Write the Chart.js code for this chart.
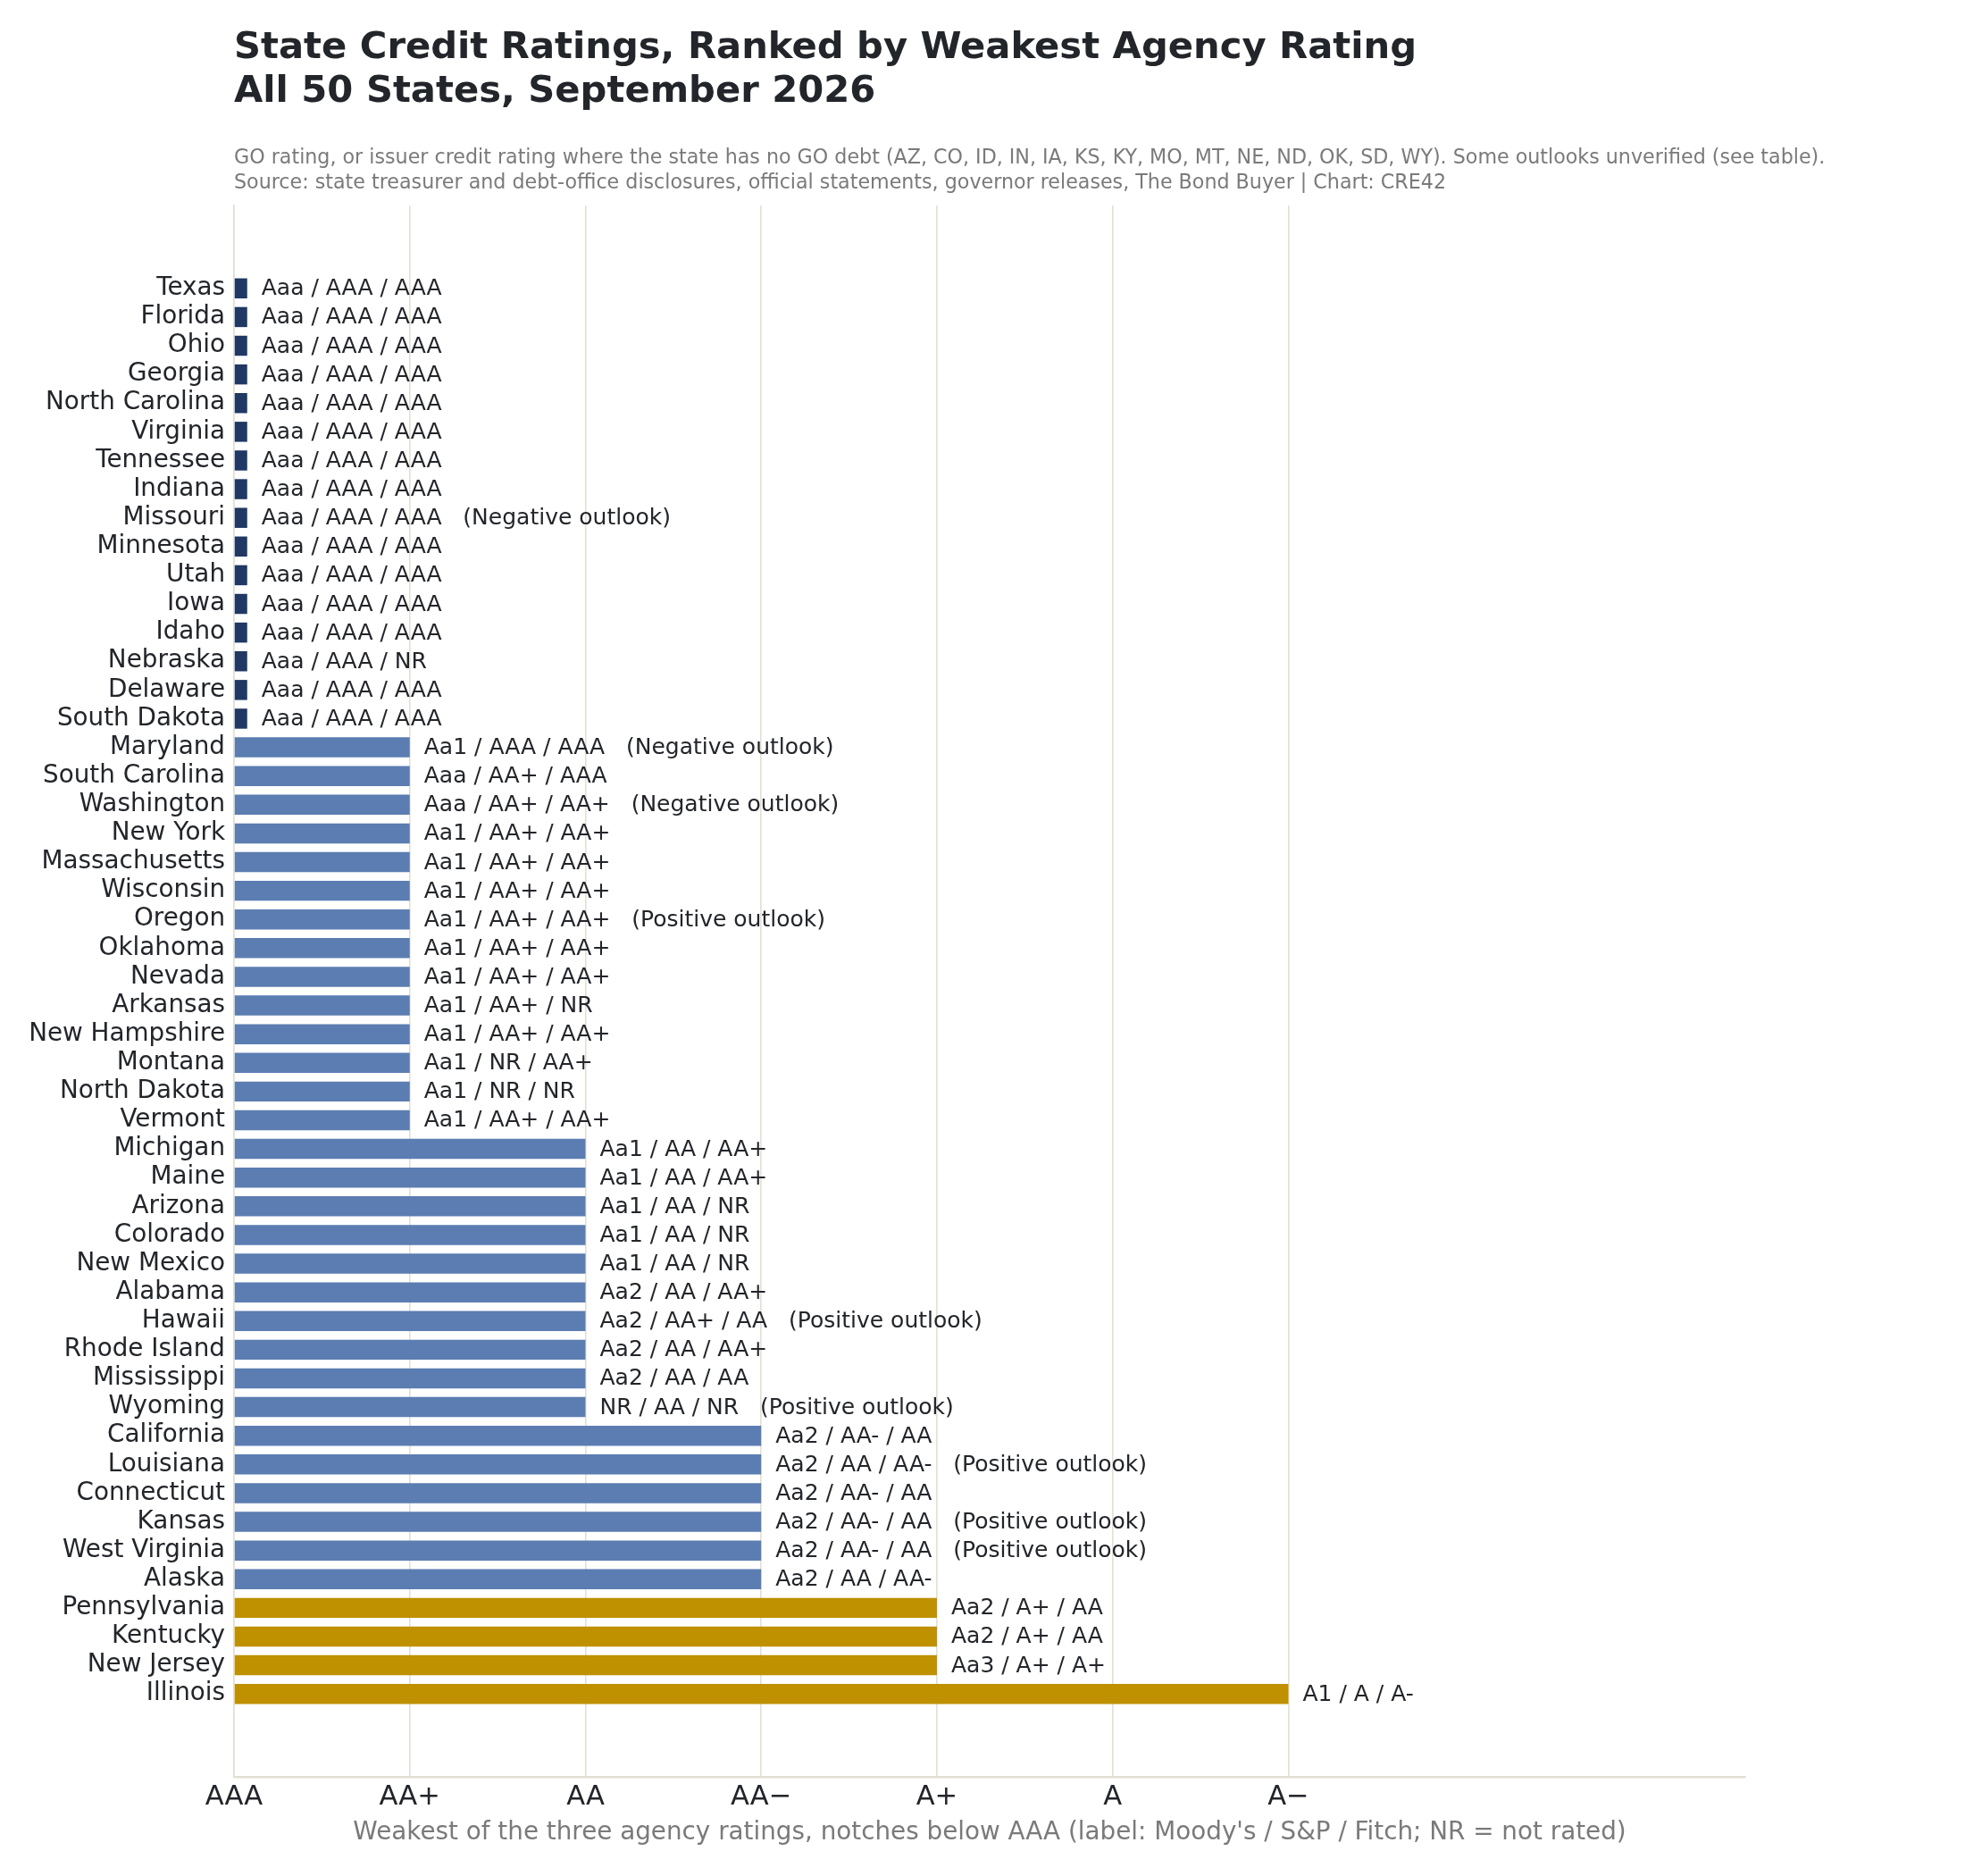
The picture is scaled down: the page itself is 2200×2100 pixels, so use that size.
<!DOCTYPE html>
<html>
<head>
<meta charset="utf-8">
<script src="https://cdn.jsdelivr.net/npm/chart.js@4"></script>
<style>
  body { margin: 0; background: #fff; }
  #wrap { width: 2200px; height: 2100px; }
</style>
</head>
<body>
<div id="wrap"><canvas id="chart" width="2200" height="2100"></canvas></div>
<script>
// states, top (strongest) to bottom (weakest)
const states = [
  'Texas', 'Florida', 'Ohio', 'Georgia', 'North Carolina', 'Virginia', 'Tennessee', 'Indiana',
  'Missouri', 'Minnesota', 'Utah', 'Iowa', 'Idaho', 'Nebraska', 'Delaware', 'South Dakota',
  'Maryland', 'South Carolina', 'Washington', 'New York', 'Massachusetts', 'Wisconsin', 'Oregon',
  'Oklahoma', 'Nevada', 'Arkansas', 'New Hampshire', 'Montana', 'North Dakota', 'Vermont',
  'Michigan', 'Maine', 'Arizona', 'Colorado', 'New Mexico', 'Alabama', 'Hawaii', 'Rhode Island',
  'Mississippi', 'Wyoming', 'California', 'Louisiana', 'Connecticut', 'Kansas', 'West Virginia',
  'Alaska', 'Pennsylvania', 'Kentucky', 'New Jersey', 'Illinois'
];

// notches below AAA for the weakest of the three ratings
const notches = [
  0, 0, 0, 0, 0, 0, 0, 0, 0, 0, 0, 0, 0, 0, 0, 0,
  1, 1, 1, 1, 1, 1, 1, 1, 1, 1, 1, 1, 1, 1,
  2, 2, 2, 2, 2, 2, 2, 2, 2, 2,
  3, 3, 3, 3, 3, 3,
  4, 4, 4,
  6
];

// Moody's / S&P / Fitch
const ratings = [
  'Aaa / AAA / AAA', 'Aaa / AAA / AAA', 'Aaa / AAA / AAA', 'Aaa / AAA / AAA', 'Aaa / AAA / AAA',
  'Aaa / AAA / AAA', 'Aaa / AAA / AAA', 'Aaa / AAA / AAA', 'Aaa / AAA / AAA', 'Aaa / AAA / AAA',
  'Aaa / AAA / AAA', 'Aaa / AAA / AAA', 'Aaa / AAA / AAA', 'Aaa / AAA / NR', 'Aaa / AAA / AAA',
  'Aaa / AAA / AAA',
  'Aa1 / AAA / AAA', 'Aaa / AA+ / AAA', 'Aaa / AA+ / AA+', 'Aa1 / AA+ / AA+', 'Aa1 / AA+ / AA+',
  'Aa1 / AA+ / AA+', 'Aa1 / AA+ / AA+', 'Aa1 / AA+ / AA+', 'Aa1 / AA+ / AA+', 'Aa1 / AA+ / NR',
  'Aa1 / AA+ / AA+', 'Aa1 / NR / AA+', 'Aa1 / NR / NR', 'Aa1 / AA+ / AA+',
  'Aa1 / AA / AA+', 'Aa1 / AA / AA+', 'Aa1 / AA / NR', 'Aa1 / AA / NR', 'Aa1 / AA / NR',
  'Aa2 / AA / AA+', 'Aa2 / AA+ / AA', 'Aa2 / AA / AA+', 'Aa2 / AA / AA', 'NR / AA / NR',
  'Aa2 / AA- / AA', 'Aa2 / AA / AA-', 'Aa2 / AA- / AA', 'Aa2 / AA- / AA', 'Aa2 / AA- / AA',
  'Aa2 / AA / AA-',
  'Aa2 / A+ / AA', 'Aa2 / A+ / AA', 'Aa3 / A+ / A+',
  'A1 / A / A-'
];

// outlook notes ('' = none shown)
const outlooks = [
  '', '', '', '', '', '', '', '', 'Negative', '', '', '', '', '', '', '',
  'Negative', '', 'Negative', '', '', '', 'Positive', '', '', '', '', '', '', '',
  '', '', '', '', '', '', 'Positive', '', '', 'Positive',
  '', 'Positive', '', 'Positive', 'Positive', '',
  '', '', '',
  ''
];

const tickLabels = ['AAA', 'AA+', 'AA', 'AA\u2212', 'A+', 'A', 'A\u2212'];

const FONT = '"DejaVu Sans", "Noto Sans", sans-serif';
const DARK = '#22252a';
const GREY = '#7a7a7a';
const RULE = '#e4dfd3';

function barColor(n) {
  if (n === 0) return '#1f3864';
  if (n <= 3) return '#5b7db1';
  return '#bf9000';
}

// header text and bar-end labels
const textPlugin = {
  id: 'texts',
  afterDatasetsDraw(chart) {
    const ctx = chart.ctx;
    const meta = chart.getDatasetMeta(0);
    ctx.save();
    ctx.font = '25px ' + FONT;
    ctx.fillStyle = DARK;
    ctx.textAlign = 'left';
    ctx.textBaseline = 'middle';
    meta.data.forEach((bar, i) => {
      let txt = ratings[i];
      if (outlooks[i]) txt += '   (' + outlooks[i] + ' outlook)';
      ctx.fillText(txt, bar.x + 16, bar.y + 1);
    });
    ctx.restore();
  },
  afterDraw(chart) {
    const ctx = chart.ctx;
    const left = chart.chartArea.left;
    ctx.save();
    ctx.textAlign = 'left';
    ctx.textBaseline = 'alphabetic';
    ctx.fillStyle = DARK;
    ctx.font = 'bold 41.7px ' + FONT;
    ctx.fillText('State Credit Ratings, Ranked by Weakest Agency Rating', left, 65);
    ctx.fillText('All 50 States, September 2026', left, 114);
    ctx.fillStyle = GREY;
    ctx.font = '22.2px ' + FONT;
    ctx.fillText('GO rating, or issuer credit rating where the state has no GO debt (AZ, CO, ID, IN, IA, KS, KY, MO, MT, NE, ND, OK, SD, WY). Some outlooks unverified (see table).', left, 183);
    ctx.fillText('Source: state treasurer and debt-office disclosures, official statements, governor releases, The Bond Buyer | Chart: CRE42', left, 211);
    ctx.restore();
  }
};

const ctx = document.getElementById('chart').getContext('2d');
const chart = new Chart(ctx, {
  type: 'bar',
  data: {
    datasets: [{
      data: states.map((s, i) => ({ x: Math.max(notches[i], 0.075), y: i })),
      backgroundColor: states.map((s, i) => barColor(notches[i])),
      borderWidth: 0,
      barPercentage: 0.7,
      categoryPercentage: 1.0
    }]
  },
  options: {
    indexAxis: 'y',
    responsive: false,
    devicePixelRatio: 1,
    animation: false,
    layout: { padding: { top: 230, right: 246, left: 0, bottom: 0 } },
    plugins: {
      legend: { display: false },
      tooltip: { enabled: false },
      title: { display: false }
    },
    scales: {
      x: {
        type: 'linear',
        position: 'bottom',
        min: 0,
        max: 8.6,
        offset: false,
        afterBuildTicks(scale) {
          scale.ticks = tickLabels.map((t, i) => ({ value: i }));
        },
        afterFit(scale) { scale.height = 111; },
        grid: { color: RULE, lineWidth: 1.6, drawTicks: false, offset: false },
        border: { display: true, color: RULE, width: 2.5 },
        ticks: {
          autoSkip: false,
          maxRotation: 0,
          padding: 5,
          color: DARK,
          font: { family: FONT, size: 30.6 },
          callback: (v) => tickLabels[v]
        },
        title: {
          display: true,
          text: "Weakest of the three agency ratings, notches below AAA (label: Moody's / S&P / Fitch; NR = not rated)",
          color: GREY,
          font: { family: FONT, size: 27.8 },
          padding: { top: 0, bottom: 32 }
        }
      },
      y: {
        type: 'linear',
        min: -2.89,
        max: 51.89,
        reverse: true,
        offset: false,
        afterBuildTicks(scale) {
          scale.ticks = states.map((s, i) => ({ value: i }));
        },
        afterFit(scale) { scale.width = 262; },
        grid: { display: false, drawTicks: false, offset: false },
        border: { display: true, color: RULE, width: 1.6 },
        ticks: {
          autoSkip: false,
          padding: 10,
          color: DARK,
          font: { family: FONT, size: 27.8 },
          callback: (v) => states[v]
        }
      }
    }
  },
  plugins: [textPlugin]
});
</script>
</body>
</html>
